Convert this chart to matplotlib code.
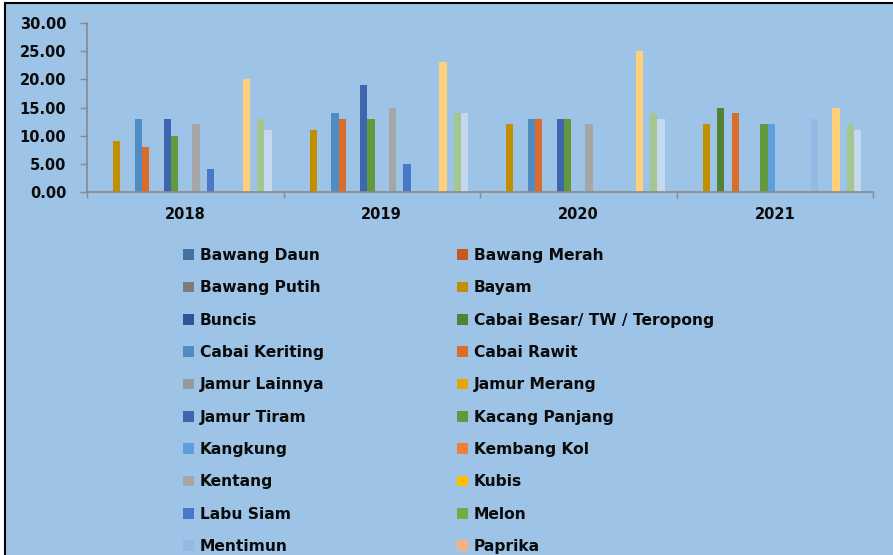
import matplotlib
matplotlib.use("Agg")
import matplotlib.pyplot as plt
import matplotlib.patches as mpatches
import numpy as np

# ── Data ─────────────────────────────────────────────────────────────────────
years = ["2018", "2019", "2020", "2021"]

commodities = [
    "Bawang Daun", "Bawang Merah", "Bawang Putih", "Bayam", "Buncis",
    "Cabai Besar/ TW / Teropong", "Cabai Keriting", "Cabai Rawit",
    "Jamur Lainnya", "Jamur Merang", "Jamur Tiram", "Kacang Panjang",
    "Kangkung", "Kembang Kol", "Kentang", "Kubis", "Labu Siam", "Melon",
    "Mentimun", "Paprika", "Petsai/Sawi", "Semangka", "Stroberi", "Terung",
    "Tomat", "Wortel",
]

# one value per commodity (same order as above), None = no bar
N = None
vals_2018 = [N, N, N, 9, N, N, 13, 8, N, N, 13, 10, N, N, 12, N, 4, N, N, N, N, 20, N, 13, 11, N]
vals_2019 = [N, N, N, 11, N, N, 14, 13, N, N, 19, 13, N, N, 15, N, 5, N, N, N, N, 23, N, 14, 14, N]
vals_2020 = [N, N, N, 12, N, N, 13, 13, N, N, 13, 13, N, N, 12, N, N, N, N, N, N, 25, N, 14, 13, N]
vals_2021 = [N, N, N, 12, N, 15, N, 14, N, N, N, 12, 12, N, N, N, N, N, 13, N, N, 15, N, 12, 11, N]

colors = [
    "#43729E", "#C05A1F", "#7C7C7C", "#C09000", "#2F5597", "#548235",
    "#4F8CC4", "#DA6C2C", "#999999", "#E6A800", "#3E66AE", "#63993E",
    "#5E9FDB", "#F07F3A", "#A6A6A6", "#FFC000", "#4A78C8", "#70AD47",
    "#94B9E2", "#F4B183", "#C9C9C9", "#FFCF7A", "#8FAADC", "#A3C78F",
    "#C5D8EF", "#F8CBAD",
]

BG = "#9DC3E6"
AXIS_GRAY = "#8A8A8A"
TEXT = "#0B0B0B"

table = np.array([vals_2018, vals_2019, vals_2020, vals_2021], dtype=float)

# ── Figure ───────────────────────────────────────────────────────────────────
W, H = 893, 555
fig = plt.figure(figsize=(W / 100, H / 100), dpi=100, facecolor="white")

# chart area (cropped screenshot of an Excel chart)
fig.patches.append(mpatches.Rectangle(
    (5 / W, -0.1), 1.0, 1.1 - 3 / H, transform=fig.transFigure,
    facecolor=BG, edgecolor="black", linewidth=1.5, zorder=-10))

ax = fig.add_axes([87 / W, 1 - 192 / H, 786 / W, 169 / H])
ax.set_facecolor("none")
ax.set_zorder(2)

n = len(commodities)
bar_w = 7.2 / 196.5
x = np.arange(len(years))
handles = []
for i, (name, col) in enumerate(zip(commodities, colors)):
    h = ax.bar(x + (i - (n - 1) / 2) * bar_w, np.nan_to_num(table[:, i]),
               width=bar_w, color=col, linewidth=0, label=name)
    handles.append(h)

ax.set_xlim(-0.5, len(years) - 0.5)
ax.set_ylim(0, 30)
ax.set_yticks(np.arange(0, 31, 5))
ax.set_yticklabels([f"{v:.2f}" for v in np.arange(0, 31, 5)])
ax.set_xticks(np.arange(-0.5, len(years)), labels=[""] * (len(years) + 1))
ax.set_xticks(x, labels=years, minor=True)

for side in ["top", "right"]:
    ax.spines[side].set_visible(False)
for side in ["left", "bottom"]:
    ax.spines[side].set_color(AXIS_GRAY)
    ax.spines[side].set_linewidth(1.2)

ax.tick_params(axis="y", direction="out", length=5, width=1, color=AXIS_GRAY,
               labelsize=10.5, labelcolor=TEXT, pad=10)
ax.tick_params(axis="x", which="major", direction="out", length=4, width=1,
               color=AXIS_GRAY)
ax.tick_params(axis="x", which="minor", length=0, labelsize=10.5,
               labelcolor=TEXT, pad=11)
for lab in ax.get_yticklabels() + ax.get_xticklabels(minor=True):
    lab.set_fontweight("bold")

# ── Legend (two columns, filled row-wise like Excel) ─────────────────────────
leg_kw = dict(loc="upper left", frameon=False, ncol=1, borderpad=0,
              borderaxespad=0, handlelength=0.68, handleheight=0.68,
              handletextpad=0.42, labelspacing=1.115,
              prop={"size": 11.2, "weight": "bold"}, labelcolor=TEXT)
leg1 = fig.legend(handles[0::2], commodities[0::2],
                  bbox_to_anchor=(183 / W, 1 - 248 / H), **leg_kw)
leg2 = fig.legend(handles[1::2], commodities[1::2],
                  bbox_to_anchor=(457 / W, 1 - 248 / H), **leg_kw)

fig.savefig("out.png", dpi=100, facecolor="white")
plt.close(fig)
